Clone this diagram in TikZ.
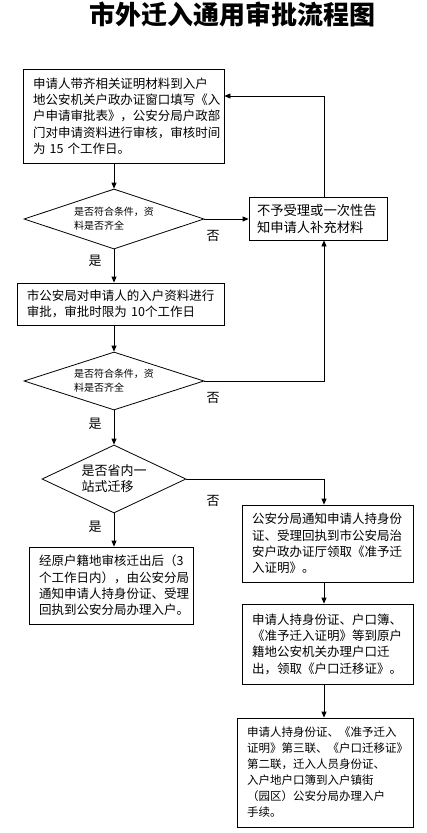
\documentclass[tikz,border=0pt]{standalone}
\usepackage{fontspec}
\setmainfont{Noto Sans CJK SC}
\usetikzlibrary{shapes.geometric,arrows.meta}
\tikzset{
  box/.style={draw, line width=0.8pt, rectangle, inner sep=0pt, align=left,
    font=\fontsize{12.5}{16.3}\selectfont},
  dia/.style={draw, line width=0.8pt, diamond, inner sep=0pt, align=left},
  lbl/.style={inner sep=0pt, font=\fontsize{13}{15}\selectfont},
  arr/.style={line width=0.8pt, -{Triangle[length=6pt,width=5pt]}},
  con/.style={line width=0.8pt}
}
\begin{document}
\begin{tikzpicture}[x=1pt,y=-1pt]
\useasboundingbox[fill=white] (0,0) rectangle (427,833);
\node[inner sep=0pt, font=\fontsize{26}{28}\bfseries] (title) at (232.5,15) {市外迁入通用审批流程图};

\node[box, minimum width=201pt, minimum height=94pt, text width=181pt] (b1) at (123.5,116)
  {申请人带齐相关证明材料到入户\\地公安机关户政办证窗口填写《入\\户申请审批表》，公安分局户政部\\门对申请资料进行审核，审核时间\\为 15 个工作日。};

\node[box, minimum width=138pt, minimum height=43pt, text width=122pt, font=\fontsize{13.3}{17}\selectfont] (buji) at (318,218.5)
  {不予受理或一次性告\\知申请人补充材料};

\node[dia, minimum width=180pt, minimum height=60pt, aspect=3, font=\fontsize{10}{14}\selectfont] (d1) at (114,219)
  {是否符合条件，资\\料是否齐全};

\node[box, minimum width=207pt, minimum height=42pt, text width=187pt] (b2) at (120.5,304)
  {市公安局对申请人的入户资料进行\\审批，审批时限为 10个工作日};

\node[dia, minimum width=180pt, minimum height=58pt, aspect=3, font=\fontsize{10}{14}\selectfont] (d2) at (114,381)
  {是否符合条件，资\\料是否齐全};

\node[dia, minimum width=144pt, minimum height=68pt, aspect=2, font=\fontsize{13}{16}\selectfont] (d3) at (114,479)
  {是否省内一\\站式迁移};

\node[box, minimum width=171pt, minimum height=77pt, text width=151pt] (b3) at (327.5,543.5)
  {公安分局通知申请人持身份\\证、受理回执到市公安局治\\安户政办证厅领取《准予迁\\入证明》。};

\node[box, minimum width=164pt, minimum height=77pt, text width=144pt] (b4) at (111,585.5)
  {经原户籍地审核迁出后（3\\个工作日内），由公安分局\\通知申请人持身份证、受理\\回执到公安分局办理入户。};

\node[box, minimum width=171pt, minimum height=80pt, text width=151pt] (b5) at (327.5,644)
  {申请人持身份证、户口簿、\\《准予迁入证明》等到原户\\籍地公安机关办理户口迁\\出，领取《户口迁移证》。};

\node[box, minimum width=176pt, minimum height=109pt, text width=156pt, font=\fontsize{11.5}{16}\selectfont] (b6) at (325,772.5)
  {申请人持身份证、《准予迁入\\证明》第三联、《户口迁移证》\\第二联，迁入人员身份证、\\入户地户口簿到入户镇街\\（园区）公安分局办理入户\\手续。};

\node[lbl] (no1) at (213,236) {否};
\node[lbl] (no2) at (213,398) {否};
\node[lbl] (no3) at (213,501) {否};
\node[lbl] (yes1) at (95,261) {是};
\node[lbl] (yes2) at (95,424) {是};
\node[lbl] (yes3) at (95,527) {是};

\coordinate (colx) at (324,0);
\coordinate (loop1) at (0,96);

\draw[arr] (b1.south -| d1.north) -- (d1.north);
\draw[arr] (d1.east) -- (d1.east -| buji.west);
\draw[arr] (colx |- buji.north) |- (b1.east |- loop1);
\draw[arr] (d1.south) -- (d1.south |- b2.north);
\draw[arr] (d2.north |- b2.south) -- (d2.north);
\draw[arr] (d2.east) -| (colx |- buji.south);
\draw[arr] (d2.south) -- (d3.north);
\draw[arr] (d3.east) -| (colx |- b3.north);
\draw[arr] (d3.south) -- (d3.south |- b4.north);
\draw[arr] (colx |- b3.south) -- (colx |- b5.north);
\draw[arr] (colx |- b5.south) -- (colx |- b6.north);
\end{tikzpicture}
\end{document}
